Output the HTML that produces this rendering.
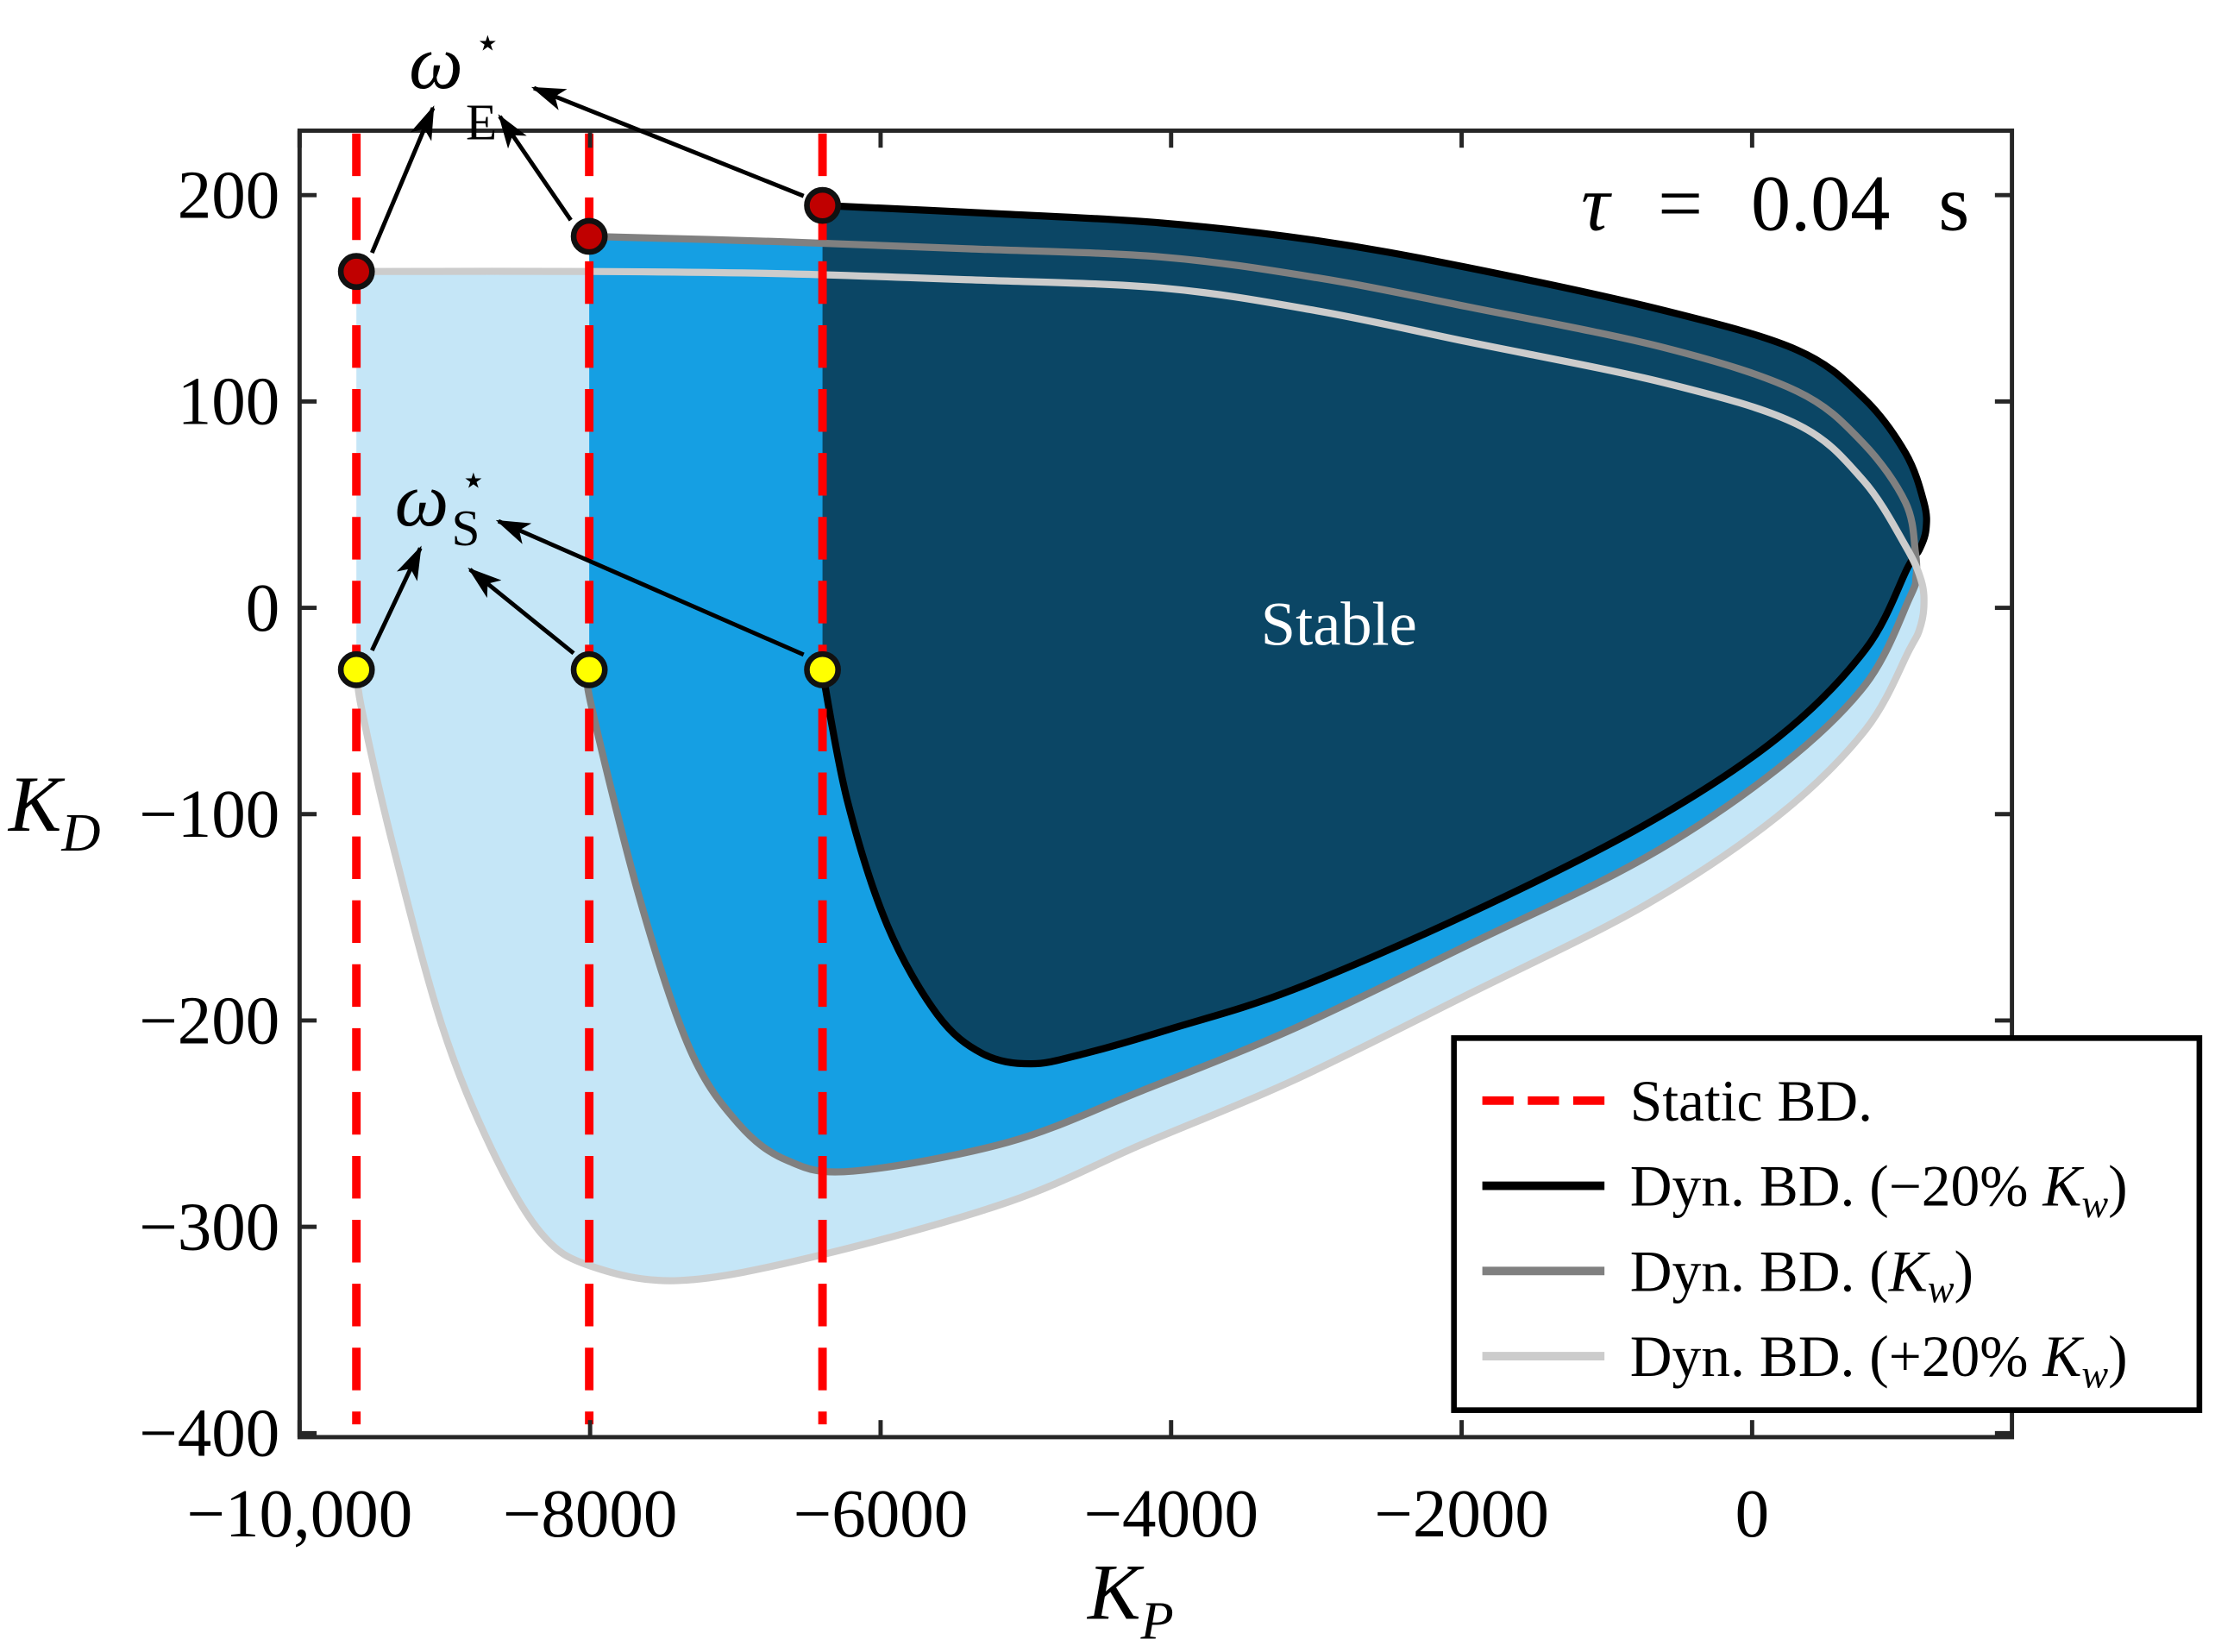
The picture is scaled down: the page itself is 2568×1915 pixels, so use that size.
<!DOCTYPE html>
<html><head><meta charset="utf-8"><style>
html,body{margin:0;padding:0;background:#fff;}
svg{display:block;font-family:"Liberation Serif",serif;}
</style></head><body>
<svg id="chart" width="2568" height="1915" viewBox="0 0 1560 1163.3" xmlns="http://www.w3.org/2000/svg">
<defs>
<clipPath id="plotclip"><rect x="211" y="92" width="1206" height="920"/></clipPath>
</defs>
<g id="fills" clip-path="url(#plotclip)"></g>
<g id="lines" clip-path="url(#plotclip)"></g>
<g id="axes"></g>
<g id="markers"></g>
</svg>
<script>
const xTicks=[-10000,-8000,-6000,-4000,-2000,0];
const xTickLabels=["\u221210,000","\u22128000","\u22126000","\u22124000","\u22122000","0"];
const yTicks=[200,100,0,-100,-200,-300,-400];
const yTickLabels=["200","100","0","\u2212100","\u2212200","\u2212300","\u2212400"];
const staticBD=[-9609,-8006,-6400];
const upperKd=[163,180,195];
const lowerKd=[-30,-30,-30];
const lightKp=[-9609,-8000,-6716,-5400,-4066,-3000,-1965,-601,308,762,1056,1165,1182,1150,1085,782,176,-733,-1945,-3157,-4200,-5122,-6432,-7380,-7996,-8338,-8680,-9022,-9365,-9570,-9609];
const lightKd=[163,163,162,159,155,144,129,109,89,62,30,13,0,-11,-20,-59,-101,-144,-187,-229,-260,-288,-314,-326,-319,-303,-262,-202,-113,-50,-30];
const grayKp=[-8006,-6716,-5400,-4066,-3000,-1965,-601,308,762,1056,1124,1128,1085,782,176,-733,-1945,-3157,-4200,-5122,-6188,-6637,-6979,-7312,-7654,-7996,-8006];
const grayKd=[180,177.5,174,170,160,146,126,105,80,51,27,15,5,-37,-78,-121,-163,-204,-234,-259,-273,-268,-250,-214,-142,-46,-30];
const blackKp=[-6400,-5200,-4066,-3000,-1965,-601,308,762,1056,1183,1197,1150,1075,782,176,-733,-1945,-3157,-4000,-4594,-4966,-5300,-5611,-5953,-6227,-6400];
const blackKd=[195,191,186.5,178,165,144,125,102,75,51,38,28,20,-20,-63,-105,-148,-185,-204,-216,-221,-216,-197,-154,-94,-31];

const X=v=>1234+(v/2000)*204.6;
const Y=v=>428-(v/100)*145.3;
const NS="http://www.w3.org/2000/svg";
function mk(tag,attrs,parent){const e=document.createElementNS(NS,tag);for(const k in attrs)e.setAttribute(k,attrs[k]);parent.appendChild(e);return e;}
function smoothPath(xs,ys){
  const p=xs.map((x,i)=>[X(x),Y(ys[i])]);
  let d="M"+p[0][0]+","+p[0][1];
  for(let i=0;i<p.length-1;i++){
    const p0=p[Math.max(0,i-1)],p1=p[i],p2=p[i+1],p3=p[Math.min(p.length-1,i+2)];
    const c1=[p1[0]+(p2[0]-p0[0])/6,p1[1]+(p2[1]-p0[1])/6];
    const c2=[p2[0]-(p3[0]-p1[0])/6,p2[1]-(p3[1]-p1[1])/6];
    d+=" C"+c1[0]+","+c1[1]+" "+c2[0]+","+c2[1]+" "+p2[0]+","+p2[1];
  }
  return d;
}
const fills=document.getElementById('fills'),lines=document.getElementById('lines');
const series=[[lightKp,lightKd,"#c5e6f7","#cccccc","light"],[grayKp,grayKd,"#159fe3","#808080","gray"],[blackKp,blackKd,"#0b4665","#000000","black"]];
series.forEach(s=>{
  const f=mk('path',{d:smoothPath(s[0],s[1])+" Z",fill:s[2],stroke:"none"},fills);
  
  
});
const ln=[series[2],series[1],series[0]];
ln.forEach(s=>{
  const l=mk('path',{d:smoothPath(s[0],s[1]),fill:"none",stroke:s[3],"stroke-width":5,"stroke-linejoin":"round"},lines);
  
  
});
staticBD.forEach((k,i)=>{
  const l=mk('line',{x1:X(k),x2:X(k),y1:94,y2:1003,stroke:"#ff0000","stroke-width":6,"stroke-dasharray":"30,15"},lines);
  
  
});
const axes=document.getElementById('axes');
const box=mk('rect',{x:211,y:92,width:1206,height:920,fill:"none",stroke:"#262626","stroke-width":3},axes);


xTicks.forEach((t,i)=>{
  const x=X(t);
  mk('line',{x1:x,x2:x,y1:1012,y2:1000,stroke:"#262626","stroke-width":3},axes);
  mk('line',{x1:x,x2:x,y1:92,y2:104,stroke:"#262626","stroke-width":3},axes);
  const tx=mk('text',{x:x,y:1082,"font-size":48,"text-anchor":"middle",fill:"#000"},axes);
  tx.textContent=xTickLabels[i];
  
  
});
yTicks.forEach((t,i)=>{
  const y=Y(t);
  mk('line',{x1:211,x2:223,y1:y,y2:y,stroke:"#262626","stroke-width":3},axes);
  mk('line',{x1:1417,x2:1405,y1:y,y2:y,stroke:"#262626","stroke-width":3},axes);
  const tx=mk('text',{x:197,y:y+16,"font-size":48,"text-anchor":"end",fill:"#000"},axes);
  tx.textContent=yTickLabels[i];
  
  
});
const mg=document.getElementById('markers');
staticBD.forEach((k,i)=>{
  const a=mk('circle',{cx:X(k),cy:Y(upperKd[i]),r:11,fill:"#c00000",stroke:"#111","stroke-width":4},mg);
  
  
  const b=mk('circle',{cx:X(k),cy:Y(lowerKd[i]),r:11,fill:"#ffff00",stroke:"#111","stroke-width":4},mg);
  
  
});
</script>
<svg style="position:absolute;left:0;top:0" width="2568" height="1915" viewBox="0 0 1560 1163.3" xmlns="http://www.w3.org/2000/svg">
<defs><marker id="ah2" markerWidth="24" markerHeight="16" refX="22" refY="8" orient="auto" markerUnits="userSpaceOnUse"><path d="M0,0 L24,8 L0,16 L6,8 z" fill="#000"/></marker></defs>
<g stroke="#000" stroke-width="3" marker-end="url(#ah2)">
<line x1="262" y1="178" x2="305" y2="76"/>
<line x1="402" y1="155" x2="352" y2="82"/>
<line x1="566" y1="138" x2="376" y2="62"/>
<line x1="262" y1="458" x2="296" y2="386"/>
<line x1="404" y1="460" x2="331" y2="401"/>
<line x1="566" y1="461" x2="351" y2="367"/>
</g>
<text x="288" y="62" font-size="54" font-style="italic">ω</text>
<text x="334" y="40" font-size="30">⋆</text>
<text x="328" y="98" font-size="36">E</text>
<text x="278" y="370" font-size="54" font-style="italic">ω</text>
<text x="324" y="348" font-size="30">⋆</text>
<text x="318" y="384" font-size="36">S</text>
<text x="1387" y="162" font-size="56" text-anchor="end" word-spacing="20"><tspan font-style="italic">τ</tspan> = 0.04 s</text>
<text x="943" y="454" font-size="44" fill="#fff" text-anchor="middle">Stable</text>
<text x="766" y="1140" font-size="56" font-style="italic">K<tspan font-size="38" dy="14">P</tspan></text>
<text x="6" y="585" font-size="56" font-style="italic">K<tspan font-size="38" dy="14">D</tspan></text>
<g>
<rect x="1024" y="731" width="525" height="262" fill="#fff" stroke="#000" stroke-width="4"/>
<line x1="1044" y1="775" x2="1130" y2="775" stroke="#ff0000" stroke-width="6" stroke-dasharray="22,10"/>
<text x="1148" y="789" font-size="41">Static BD.</text>
<line x1="1044" y1="835" x2="1130" y2="835" stroke="#000" stroke-width="6"/>
<text x="1148" y="849" font-size="41">Dyn. BD. (−20% <tspan font-style="italic">K<tspan font-size="28" dy="8">w</tspan></tspan><tspan dy="-8">)</tspan></text>
<line x1="1044" y1="895" x2="1130" y2="895" stroke="#808080" stroke-width="6"/>
<text x="1148" y="909" font-size="41">Dyn. BD. (<tspan font-style="italic">K<tspan font-size="28" dy="8">w</tspan></tspan><tspan dy="-8">)</tspan></text>
<line x1="1044" y1="955" x2="1130" y2="955" stroke="#cccccc" stroke-width="6"/>
<text x="1148" y="969" font-size="41">Dyn. BD. (+20% <tspan font-style="italic">K<tspan font-size="28" dy="8">w</tspan></tspan><tspan dy="-8">)</tspan></text>
</g>
</svg>
</body></html>
